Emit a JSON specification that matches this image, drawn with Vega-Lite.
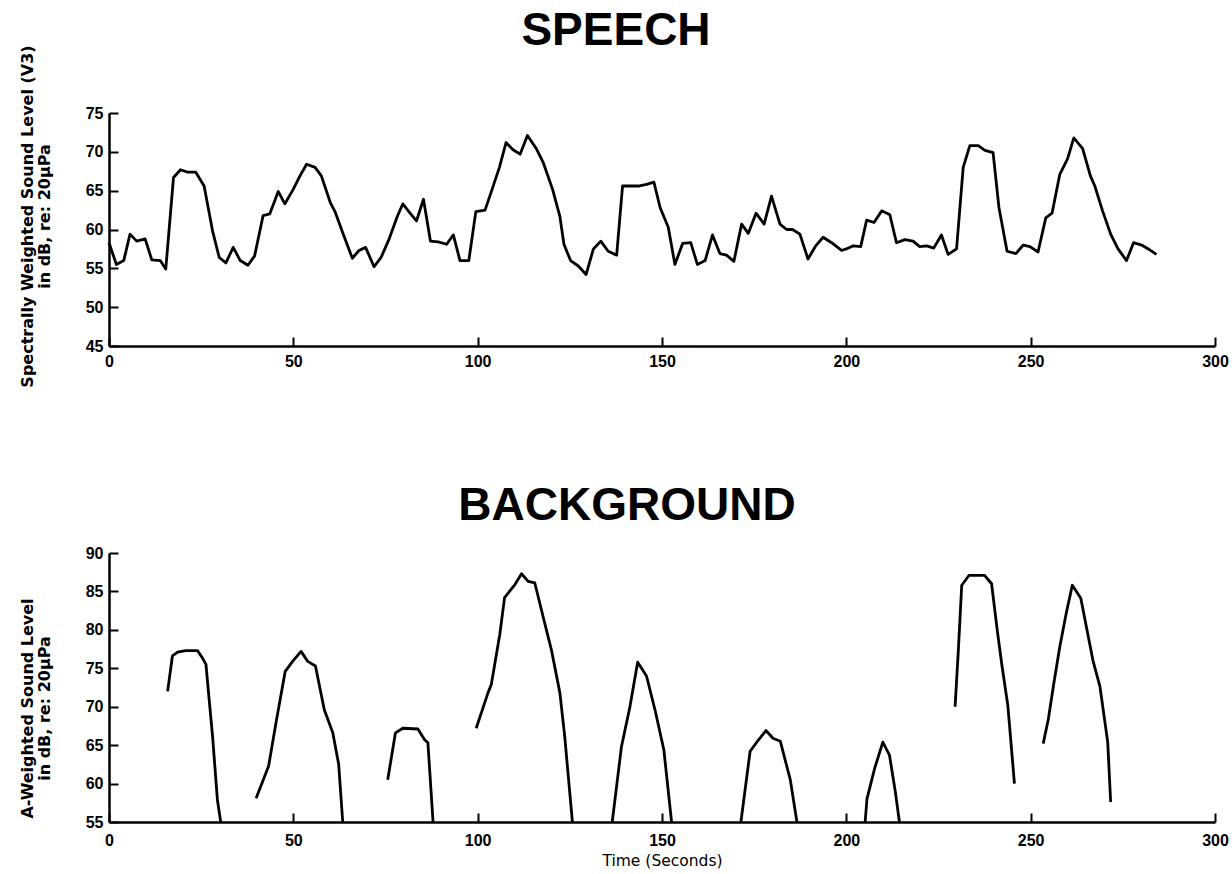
{
  "$schema": "https://vega.github.io/schema/vega-lite/v6.json",
  "background": "white",
  "padding": {"left": 19, "top": 7, "right": 10, "bottom": 0},
  "spacing": 207,
  "bounds": "flush",
  "config": {
    "view": {"stroke": null},
    "axis": {
      "domainColor": "black", "domainWidth": 2.5,
      "tickColor": "black", "tickWidth": 2, "tickSize": -9,
      "labelFont": "Liberation Sans", "labelFontWeight": "bold", "labelFontSize": 16, "labelColor": "black",
      "grid": false, "titleColor": "black", "titleFont": "DejaVu Sans", "titleFontWeight": "bold"
    },
    "title": {"font": "Liberation Sans", "fontWeight": "bold", "fontSize": 46, "color": "black", "frame": "group", "anchor": "middle"}
  },
  "datasets": {
    "speech": [
      {"t":0,"v":58.3},{"t":2,"v":55.5},{"t":4,"v":56},{"t":5.7,"v":59.4},{"t":7.5,"v":58.5},{"t":9.8,"v":58.8},{"t":11.6,"v":56.1},{"t":13.9,"v":56},{"t":15.4,"v":54.9},{"t":17.5,"v":66.7},{"t":19.4,"v":67.7},{"t":21.2,"v":67.4},{"t":23.5,"v":67.4},{"t":25.8,"v":65.6},{"t":28.1,"v":59.8},{"t":29.9,"v":56.4},{"t":31.7,"v":55.7},{"t":33.7,"v":57.7},{"t":35.6,"v":56},{"t":37.7,"v":55.4},{"t":39.5,"v":56.6},{"t":41.8,"v":61.8},{"t":43.6,"v":62},{"t":45.9,"v":64.9},{"t":47.7,"v":63.3},{"t":50,"v":65.2},{"t":51.8,"v":66.9},{"t":53.6,"v":68.4},{"t":55.9,"v":68},{"t":57.6,"v":66.9},{"t":60,"v":63.5},{"t":61.4,"v":62.2},{"t":63.7,"v":59.2},{"t":66,"v":56.3},{"t":67.8,"v":57.3},{"t":69.6,"v":57.7},{"t":71.9,"v":55.2},{"t":73.8,"v":56.4},{"t":76,"v":58.8},{"t":78.3,"v":61.8},{"t":79.7,"v":63.3},{"t":81.5,"v":62.2},{"t":83.4,"v":61.1},{"t":85.3,"v":63.9},{"t":87.2,"v":58.5},{"t":89.3,"v":58.4},{"t":91.6,"v":58.1},{"t":93.4,"v":59.3},{"t":95.2,"v":56},{"t":97.6,"v":56},{"t":99.5,"v":62.3},{"t":102,"v":62.5},{"t":103.8,"v":65},{"t":105.9,"v":68},{"t":107.7,"v":71.2},{"t":109.5,"v":70.3},{"t":111.5,"v":69.7},{"t":113.5,"v":72.1},{"t":115.8,"v":70.5},{"t":117.8,"v":68.6},{"t":120.3,"v":65.2},{"t":122.3,"v":61.7},{"t":123.4,"v":58.1},{"t":125.2,"v":56},{"t":127.3,"v":55.3},{"t":129.4,"v":54.2},{"t":131.4,"v":57.5},{"t":133.4,"v":58.5},{"t":135.4,"v":57.2},{"t":137.7,"v":56.7},{"t":139.3,"v":65.6},{"t":141.3,"v":65.6},{"t":143.6,"v":65.6},{"t":145.8,"v":65.8},{"t":147.8,"v":66.1},{"t":149.5,"v":62.8},{"t":151.7,"v":60.3},{"t":153.5,"v":55.5},{"t":155.6,"v":58.2},{"t":157.8,"v":58.3},{"t":159.6,"v":55.5},{"t":161.7,"v":56},{"t":163.7,"v":59.3},{"t":165.7,"v":56.9},{"t":167.5,"v":56.7},{"t":169.5,"v":55.9},{"t":171.6,"v":60.7},{"t":173.4,"v":59.5},{"t":175.5,"v":62.1},{"t":177.7,"v":60.7},{"t":179.7,"v":64.3},{"t":182,"v":60.7},{"t":183.8,"v":60},{"t":185.4,"v":60},{"t":187.4,"v":59.4},{"t":189.6,"v":56.2},{"t":191.7,"v":57.9},{"t":193.7,"v":59},{"t":196,"v":58.3},{"t":198.7,"v":57.3},{"t":200,"v":57.5},{"t":201.9,"v":57.9},{"t":203.9,"v":57.8},{"t":205.5,"v":61.2},{"t":207.5,"v":60.9},{"t":209.6,"v":62.4},{"t":211.8,"v":61.9},{"t":213.6,"v":58.3},{"t":215.9,"v":58.7},{"t":218.1,"v":58.5},{"t":219.9,"v":57.8},{"t":221.8,"v":57.9},{"t":223.7,"v":57.6},{"t":225.8,"v":59.3},{"t":227.6,"v":56.8},{"t":229.9,"v":57.5},{"t":231.7,"v":68},{"t":233.5,"v":70.8},{"t":235.8,"v":70.8},{"t":237.6,"v":70.2},{"t":239.8,"v":69.9},{"t":241.4,"v":62.8},{"t":243.6,"v":57.2},{"t":246,"v":56.9},{"t":248,"v":58},{"t":249.8,"v":57.8},{"t":252,"v":57.1},{"t":254.1,"v":61.5},{"t":255.8,"v":62.1},{"t":257.9,"v":67.1},{"t":260,"v":69.1},{"t":261.7,"v":71.8},{"t":264.1,"v":70.4},{"t":266.2,"v":66.9},{"t":267.4,"v":65.6},{"t":269.5,"v":62.4},{"t":271.7,"v":59.4},{"t":273.7,"v":57.5},{"t":276,"v":56},{"t":277.9,"v":58.3},{"t":280.1,"v":58},{"t":281.9,"v":57.5},{"t":284.1,"v":56.8}
    ],
    "background": [
      {"seg":1,"t":15.9,"v":72},{"seg":1,"t":17.2,"v":76.6},{"seg":1,"t":18.6,"v":77.1},{"seg":1,"t":20.8,"v":77.3},{"seg":1,"t":24,"v":77.3},{"seg":1,"t":25.4,"v":76.3},{"seg":1,"t":26.3,"v":75.5},{"seg":1,"t":27,"v":71.8},{"seg":1,"t":28.1,"v":66.1},{"seg":1,"t":29.4,"v":57.9},{"seg":1,"t":30.3,"v":55},
      {"seg":2,"t":39.9,"v":58.1},{"seg":2,"t":41.7,"v":60.3},{"seg":2,"t":43.3,"v":62.3},{"seg":2,"t":45.3,"v":67.9},{"seg":2,"t":47.8,"v":74.6},{"seg":2,"t":49.8,"v":75.9},{"seg":2,"t":52.1,"v":77.2},{"seg":2,"t":53.9,"v":75.9},{"seg":2,"t":56,"v":75.3},{"seg":2,"t":58.4,"v":69.6},{"seg":2,"t":60.7,"v":66.6},{"seg":2,"t":62.3,"v":62.5},{"seg":2,"t":63.4,"v":55},
      {"seg":3,"t":75.6,"v":60.5},{"seg":3,"t":77.7,"v":66.6},{"seg":3,"t":79.7,"v":67.2},{"seg":3,"t":83.8,"v":67.1},{"seg":3,"t":85.6,"v":65.7},{"seg":3,"t":86.5,"v":65.3},{"seg":3,"t":87.9,"v":55},
      {"seg":4,"t":99.6,"v":67.2},{"seg":4,"t":102.8,"v":71.8},{"seg":4,"t":103.7,"v":72.9},{"seg":4,"t":106,"v":79.4},{"seg":4,"t":107.3,"v":84.2},{"seg":4,"t":110.1,"v":85.9},{"seg":4,"t":111.9,"v":87.3},{"seg":4,"t":113.7,"v":86.3},{"seg":4,"t":115.5,"v":86.1},{"seg":4,"t":117.7,"v":81.8},{"seg":4,"t":120,"v":77.4},{"seg":4,"t":122.3,"v":71.8},{"seg":4,"t":123.6,"v":66.2},{"seg":4,"t":125.7,"v":55},
      {"seg":5,"t":136.5,"v":55},{"seg":5,"t":139,"v":64.8},{"seg":5,"t":141.3,"v":70},{"seg":5,"t":143.4,"v":75.8},{"seg":5,"t":145.8,"v":74},{"seg":5,"t":148.1,"v":69.6},{"seg":5,"t":150.5,"v":64.4},{"seg":5,"t":152.6,"v":55},
      {"seg":6,"t":171.4,"v":55},{"seg":6,"t":173.9,"v":64.2},{"seg":6,"t":176.2,"v":65.7},{"seg":6,"t":178.2,"v":66.9},{"seg":6,"t":180.1,"v":65.9},{"seg":6,"t":182.1,"v":65.5},{"seg":6,"t":184.8,"v":60.5},{"seg":6,"t":186.6,"v":55},
      {"seg":7,"t":205.1,"v":55},{"seg":7,"t":205.6,"v":58},{"seg":7,"t":207.7,"v":62},{"seg":7,"t":209.9,"v":65.4},{"seg":7,"t":211.7,"v":63.7},{"seg":7,"t":213.3,"v":58.9},{"seg":7,"t":214.4,"v":55},
      {"seg":8,"t":229.5,"v":70},{"seg":8,"t":230.4,"v":77.5},{"seg":8,"t":231.3,"v":85.8},{"seg":8,"t":233.3,"v":87.1},{"seg":8,"t":237.5,"v":87.1},{"seg":8,"t":239.4,"v":86},{"seg":8,"t":241,"v":79.7},{"seg":8,"t":242.2,"v":75.4},{"seg":8,"t":243.8,"v":70.2},{"seg":8,"t":245.6,"v":60},
      {"seg":9,"t":253.4,"v":65.2},{"seg":9,"t":254.8,"v":68.4},{"seg":9,"t":256.2,"v":72.8},{"seg":9,"t":257.9,"v":77.8},{"seg":9,"t":259.7,"v":82.3},{"seg":9,"t":261.3,"v":85.8},{"seg":9,"t":263.6,"v":84.1},{"seg":9,"t":265.4,"v":79.7},{"seg":9,"t":266.9,"v":76},{"seg":9,"t":268.8,"v":72.6},{"seg":9,"t":270.9,"v":65.4},{"seg":9,"t":271.7,"v":57.6}
    ]
  },
  "vconcat": [
    {
      "width": 1106, "height": 233,
      "title": {"text": "SPEECH", "dx": -46, "offset": -10},
      "data": {"name": "speech"},
      "mark": {"type": "line", "color": "black", "strokeWidth": 2.8, "strokeJoin": "round"},
      "encoding": {
        "x": {"field": "t", "type": "quantitative", "scale": {"domain": [0, 300]},
              "axis": {"title": null, "values": [0, 50, 100, 150, 200, 250, 300], "labelPadding": 16, "labelFlush": false}},
        "y": {"field": "v", "type": "quantitative", "scale": {"domain": [45, 75], "zero": false},
              "axis": {"title": ["Spectrally Weighted Sound Level (V3)", "in dB, re:  20μPa"], "titleFontSize": 16, "titlePadding": 33, "titleLineHeight": 17, "titleY": 103,
                       "values": [45, 50, 55, 60, 65, 70, 75], "labelPadding": 15}}
      }
    },
    {
      "width": 1106, "height": 269,
      "title": {"text": "BACKGROUND", "dx": -35, "offset": 15},
      "data": {"name": "background"},
      "mark": {"type": "line", "color": "black", "strokeWidth": 2.8, "strokeJoin": "round"},
      "encoding": {
        "x": {"field": "t", "type": "quantitative", "scale": {"domain": [0, 300]},
              "axis": {"title": "Time (Seconds)", "titleFontSize": 15.5, "titleFontWeight": "normal", "titlePadding": 5,
                       "values": [0, 50, 100, 150, 200, 250, 300], "labelPadding": 19, "labelFlush": false}},
        "y": {"field": "v", "type": "quantitative", "scale": {"domain": [55, 90], "zero": false},
              "axis": {"title": ["A-Weighted Sound Level", "in dB, re:  20μPa"], "titleFontSize": 16, "titlePadding": 33, "titleLineHeight": 17, "titleY": 155,
                       "values": [55, 60, 65, 70, 75, 80, 85, 90], "labelPadding": 15}},
        "detail": {"field": "seg", "type": "nominal"}
      }
    }
  ]
}
